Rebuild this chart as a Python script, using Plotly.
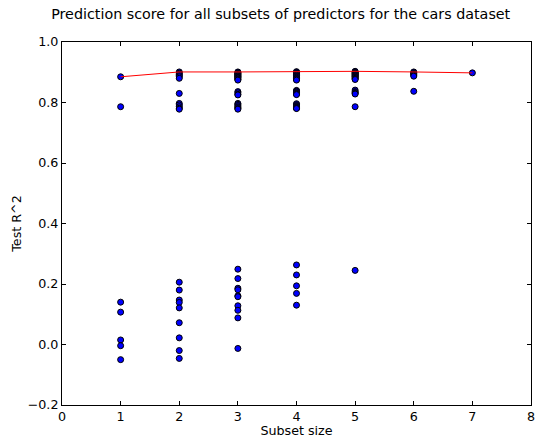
import plotly.graph_objects as go

subset_sizes = [1, 2, 3, 4, 5, 6, 7]

scores_1 = [0.885, 0.786, 0.140, 0.107, 0.015, -0.004, -0.050]
scores_2 = [0.901, 0.897, 0.893, 0.889, 0.885, 0.880, 0.830, 0.797, 0.792, 0.786, 0.781, 0.778,
            0.206, 0.180, 0.147, 0.139, 0.121, 0.072, 0.022, -0.020, -0.046]
scores_3 = [0.901, 0.899, 0.897, 0.895, 0.893, 0.891, 0.889, 0.887, 0.885, 0.883, 0.881, 0.878,
            0.876, 0.874, 0.836, 0.832, 0.827, 0.825, 0.797, 0.794, 0.790, 0.786, 0.783, 0.780, 0.778,
            0.249, 0.218, 0.186, 0.181, 0.161, 0.158, 0.128, 0.113, 0.088, -0.013]
scores_4 = [0.902, 0.900, 0.898, 0.896, 0.894, 0.892, 0.890, 0.888, 0.886, 0.884, 0.882, 0.880,
            0.878, 0.876, 0.874, 0.840, 0.838, 0.835, 0.832, 0.830, 0.828, 0.826, 0.796, 0.793,
            0.790, 0.787, 0.785, 0.783, 0.781, 0.780,
            0.263, 0.230, 0.194, 0.169, 0.130]
scores_5 = [0.903, 0.901, 0.899, 0.897, 0.895, 0.893, 0.891, 0.889, 0.887, 0.885, 0.883, 0.880,
            0.878, 0.876, 0.841, 0.836, 0.833, 0.830, 0.828, 0.786, 0.245]
scores_6 = [0.901, 0.899, 0.896, 0.893, 0.890, 0.887, 0.837]
scores_7 = [0.898]

all_scores = [scores_1, scores_2, scores_3, scores_4, scores_5, scores_6, scores_7]

xs, ys = [], []
for k, sc in zip(subset_sizes, all_scores):
    xs += [k] * len(sc)
    ys += sc
best = [max(sc) for sc in all_scores]

fig = go.Figure()
fig.add_trace(go.Scatter(
    x=xs, y=ys, mode="markers",
    marker=dict(size=6, color="blue", line=dict(color="black", width=1)),
    showlegend=False, hoverinfo="skip"))
fig.add_trace(go.Scatter(
    x=subset_sizes, y=best, mode="lines",
    line=dict(color="red", width=1), showlegend=False))

axis_common = dict(
    showgrid=False, zeroline=False, showline=True, linecolor="black", linewidth=1,
    mirror="ticks", ticks="inside", ticklen=4, tickcolor="black", tickwidth=1,
    tickfont=dict(family="DejaVu Sans", size=12.7, color="black"),
    automargin=False,
)
fig.update_xaxes(range=[0, 8], dtick=1, tick0=0,
                 title=dict(text="Subset size", font=dict(family="DejaVu Sans", size=12.7, color="black"), standoff=3),
                 **axis_common)
fig.update_yaxes(range=[-0.2, 1.0], dtick=0.2, tick0=0, tickformat=".1f",
                 title=dict(text="Test R^2", font=dict(family="DejaVu Sans", size=12.7, color="black"), standoff=3),
                 **axis_common)

fig.update_layout(
    width=544, height=438,
    margin=dict(l=62, r=13, t=42, b=33, autoexpand=False),
    paper_bgcolor="white", plot_bgcolor="white",
    title=dict(text="Prediction score for all subsets of predictors for the cars dataset",
               font=dict(family="DejaVu Sans", size=14.3, color="black"),
               x=0.516, xanchor="center", y=0.968, yanchor="middle"),
)

fig.write_html("out.html", config={"displayModeBar": False},
               post_script="document.body.style.margin='0';")
